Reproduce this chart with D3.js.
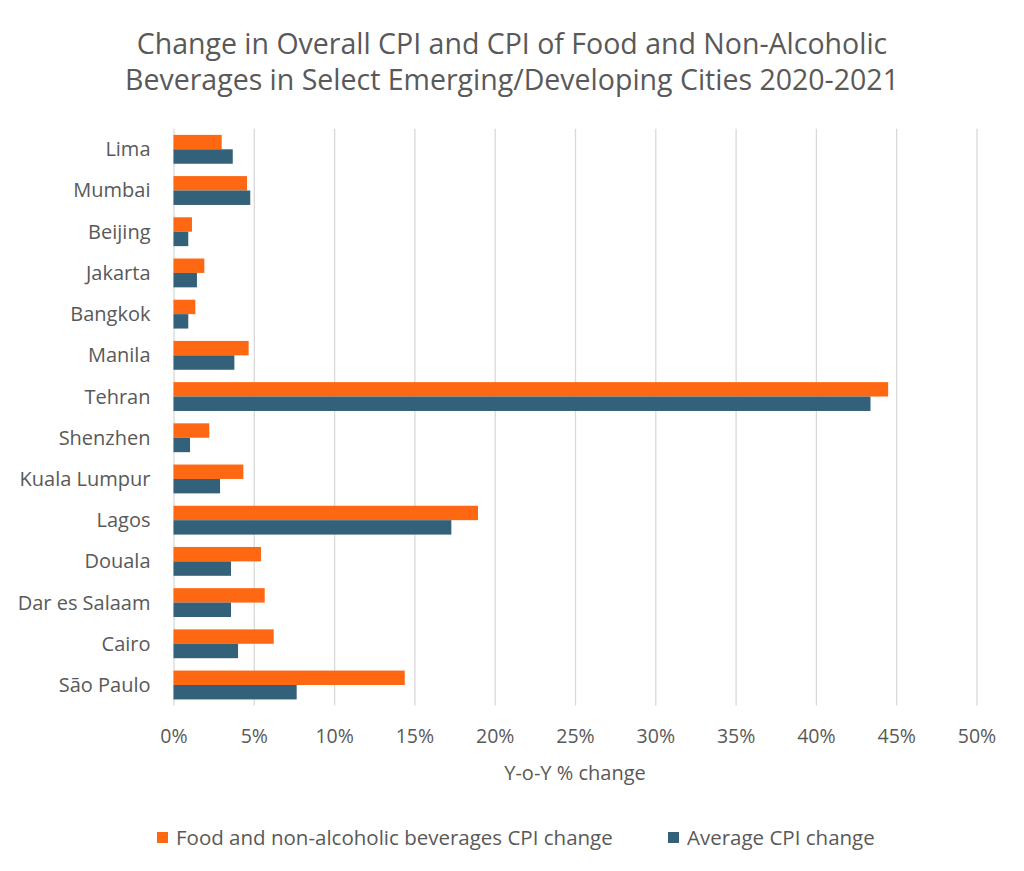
<!DOCTYPE html>
<html>
<head>
<meta charset="utf-8">
<script src="https://cdn.jsdelivr.net/npm/d3@7"></script>
<style>
  body { margin: 0; background: #fff; }
  svg text { font-family: "Open Sans", sans-serif; fill: #595959; }
</style>
</head>
<body>
<svg id="chart" width="1024" height="871"></svg>
<script>
// data (fractions, 0.05 = 5%)
const cities = ["Lima", "Mumbai", "Beijing", "Jakarta", "Bangkok", "Manila", "Tehran",
  "Shenzhen", "Kuala Lumpur", "Lagos", "Douala", "Dar es Salaam", "Cairo", "São Paulo"];
const foodCPI = [0.030, 0.0458, 0.0115, 0.0192, 0.0136, 0.0468, 0.445,
  0.0223, 0.0435, 0.1896, 0.0545, 0.0568, 0.0624, 0.144];
const avgCPI = [0.0369, 0.0478, 0.0092, 0.0146, 0.0092, 0.0379, 0.434,
  0.0103, 0.029, 0.173, 0.0358, 0.0358, 0.0402, 0.0767];
const seriesNames = ["Food and non-alcoholic beverages CPI change", "Average CPI change"];
const seriesKeys = ["food", "avg"];
const xTicks = [0, 0.05, 0.1, 0.15, 0.2, 0.25, 0.3, 0.35, 0.4, 0.45, 0.5];

const colors = { food: "#FF6813", avg: "#336179" };

const svg = d3.select("#chart"),
    margin = { top: 128.7, right: 47.5, bottom: 165.4, left: 173.5 },
    width = +svg.attr("width") - margin.left - margin.right,
    height = +svg.attr("height") - margin.top - margin.bottom,
    g = svg.append("g").attr("transform", "translate(" + margin.left + "," + margin.top + ")");

const rows = cities.map((c, i) => ({ city: c, food: foodCPI[i], avg: avgCPI[i] }));

// scales
const x = d3.scaleLinear().domain([0, 0.5]).range([0, width]);
const y = d3.scaleBand().domain(cities).range([0, height]).paddingInner(0.3).paddingOuter(0.15);
const ySub = d3.scaleBand().domain(seriesKeys).range([0, y.bandwidth()]);

// gridlines + tick labels
const xAxis = g.append("g")
    .attr("class", "axis axis--x")
    .attr("transform", "translate(0," + height + ")")
    .call(d3.axisBottom(x).tickValues(xTicks).tickFormat(d3.format(".0%"))
      .tickSize(-height).tickPadding(24));
xAxis.select(".domain").remove();
xAxis.selectAll(".tick line").attr("stroke", "#d9d9d9").attr("stroke-width", 1.3);
xAxis.selectAll(".tick text").style("font-size", "19.5px");

// category labels
g.append("g")
  .selectAll("text")
  .data(cities)
  .enter()
  .append("text")
    .attr("x", -23)
    .attr("y", d => y(d) + y.bandwidth() / 2)
    .attr("dy", "0.35em")
    .attr("text-anchor", "end")
    .style("font-size", "20px")
    .text(d => d);

// bars
const rowG = g.selectAll(".row")
  .data(rows)
  .enter()
  .append("g")
    .attr("class", "row")
    .attr("transform", d => `translate(0, ${y(d.city)})`);

rowG.selectAll("rect")
  .data(d => seriesKeys.map(k => ({ key: k, value: d[k] })))
  .enter()
  .append("rect")
    .attr("x", x(0))
    .attr("y", d => ySub(d.key))
    .attr("height", ySub.bandwidth())
    .attr("width", d => x(d.value) - x(0))
    .attr("fill", d => colors[d.key]);

// title
svg.append("text")
    .attr("x", 512)
    .attr("y", 54)
    .attr("text-anchor", "middle")
    .style("font-size", "28.5px")
    .text("Change in Overall CPI and CPI of Food and Non-Alcoholic");
svg.append("text")
    .attr("x", 512)
    .attr("y", 90)
    .attr("text-anchor", "middle")
    .style("font-size", "28.5px")
    .text("Beverages in Select Emerging/Developing Cities 2020-2021");

// axis title
svg.append("text")
    .attr("x", margin.left + width / 2)
    .attr("y", 780)
    .attr("text-anchor", "middle")
    .style("font-size", "20px")
    .text("Y-o-Y % change");

// legend
const legendX = [157, 668];
const legend = svg.selectAll(".legend")
  .data(seriesKeys)
  .enter()
  .append("g")
    .attr("class", "legend")
    .attr("transform", (d, i) => `translate(${legendX[i]}, 832)`);
legend.append("rect")
    .attr("width", 11)
    .attr("height", 11)
    .attr("fill", d => colors[d]);
legend.append("text")
    .attr("x", 19)
    .attr("y", 5.5)
    .attr("dy", "0.35em")
    .style("font-size", "20.5px")
    .text((d, i) => seriesNames[i]);
</script>
</body>
</html>
